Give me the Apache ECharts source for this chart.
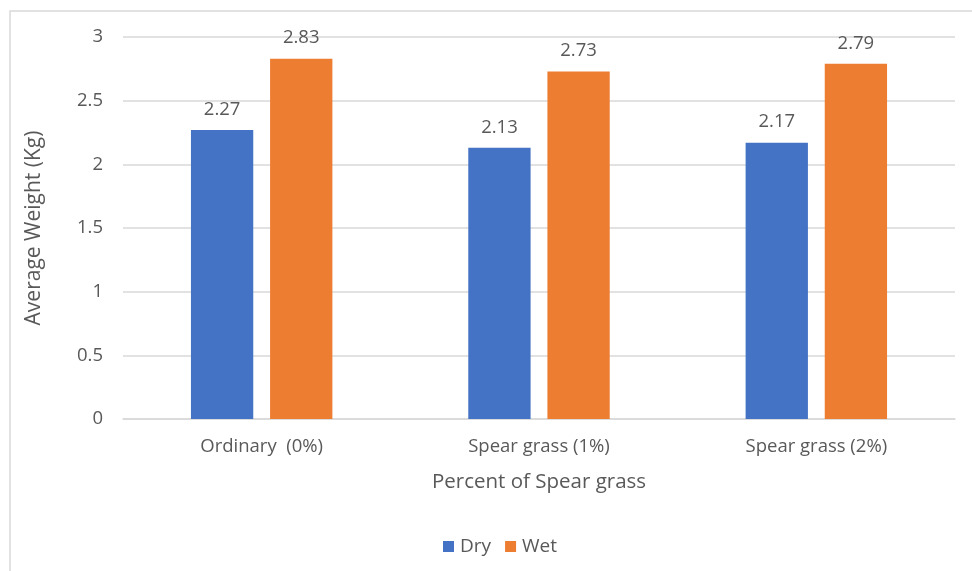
<!DOCTYPE html>
<html><head><meta charset="utf-8">
<script src="https://cdn.jsdelivr.net/npm/echarts@6/dist/echarts.min.js"></script>
<style>html,body{margin:0;padding:0;background:#fff}#c{width:972px;height:571px}</style>
</head><body><div id="c"></div>
<script>
const categories = ['Ordinary  (0%)', 'Spear grass (1%)', 'Spear grass (2%)'];
const dryValues = [2.27, 2.13, 2.17];
const wetValues = [2.83, 2.73, 2.79];
const yTicks = [0, 0.5, 1, 1.5, 2, 2.5, 3];

const FONT = 'Open Sans';
const TXT = '#595959';
const chart = echarts.init(document.getElementById('c'));
chart.setOption({
  animation: false,
  textStyle: { fontFamily: FONT, color: TXT },
  graphic: [{
    type: 'rect', shape: { x: 10, y: 11, width: 980, height: 580 },
    style: { fill: 'none', stroke: '#d9d9d9', lineWidth: 1.5 }, silent: true, z: -1
  }],
  grid: { left: 123, right: 17, top: 37, bottom: 152, containLabel: false },
  legend: {
    data: ['Dry', 'Wet'], left: 438, top: 532,
    itemWidth: 11, itemHeight: 11, itemGap: 14, icon: 'rect',
    textStyle: { fontFamily: FONT, color: TXT, fontSize: 19, padding: [0, 0, 0, 1] }
  },
  xAxis: {
    type: 'category', data: categories,
    name: 'Percent of Spear grass', nameLocation: 'middle', nameGap: 53,
    nameTextStyle: { fontFamily: FONT, color: TXT, fontSize: 20.5 },
    axisLine: { lineStyle: { color: '#d9d9d9', width: 1.5 } },
    axisTick: { show: false },
    axisLabel: { fontFamily: FONT, color: TXT, fontSize: 18.5, margin: 18 }
  },
  yAxis: {
    type: 'value', min: 0, max: 3, interval: 0.5,
    name: 'Average Weight (Kg)', nameLocation: 'middle', nameGap: 78,
    nameTextStyle: { fontFamily: FONT, color: TXT, fontSize: 21 },
    axisLine: { show: false }, axisTick: { show: false },
    splitLine: { lineStyle: { color: '#d9d9d9', width: 1.5 } },
    axisLabel: { fontFamily: FONT, color: TXT, fontSize: 18.5, margin: 20,
      formatter: v => yTicks.includes(v) ? String(v) : '' }
  },
  series: [
    { name: 'Dry', type: 'bar', data: dryValues, barGap: '27%', barCategoryGap: '49%',
      itemStyle: { color: '#4472C4' },
      label: { show: true, position: 'top', distance: 11, fontFamily: FONT, color: TXT, fontSize: 18.5 } },
    { name: 'Wet', type: 'bar', data: wetValues, barGap: '27%', barCategoryGap: '49%',
      itemStyle: { color: '#ED7D31' },
      label: { show: true, position: 'top', distance: 11, fontFamily: FONT, color: TXT, fontSize: 18.5 } }
  ]
});
</script></body></html>
